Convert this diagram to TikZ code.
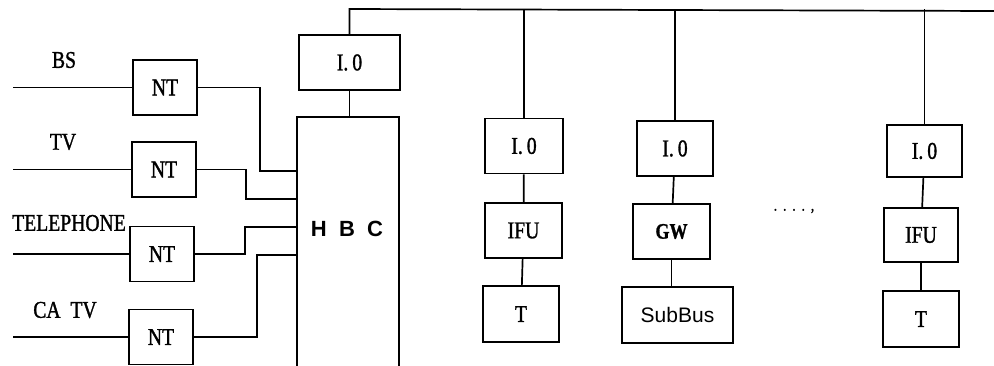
\documentclass[tikz,border=0pt]{standalone}
\usepackage{fontspec}
\setmainfont[FakeStretch=0.82,FakeBold=1.2]{Liberation Serif}
\newfontfamily\sansf{Liberation Sans}
\begin{document}
\begin{tikzpicture}[x=1pt,y=-1pt,
  wire/.style={line width=1.7pt},
  blk/.style={draw, line width=1.7pt, inner sep=0pt, minimum height=55pt,
    font=\fontsize{24}{24}\selectfont},
  lbl/.style={inner sep=0pt, font=\fontsize{24}{24}\selectfont}]
\useasboundingbox (0,0) rectangle (994,365);

% input labels
\node[lbl] (lbs) at (64,60) {BS};
\node[lbl] (ltv) at (63,142) {TV};
\node[lbl] (ltel) at (69,223) {TELEPHONE};
\node[lbl] (lcatv) at (65,310) {CA\ \ TV};

% NT boxes
\node[blk, minimum width=64pt] (nt1) at (165,87.5) {NT};
\node[blk, minimum width=64pt] (nt2) at (164,169.5) {NT};
\node[blk, minimum width=64pt] (nt3) at (162,254) {NT};
\node[blk, minimum width=64pt] (nt4) at (161,337) {NT};

\coordinate (s1) at (13,87.5);
\coordinate (s2) at (13,169.5);
\coordinate (s3) at (13,254);
\coordinate (s4) at (13,337);
\draw[wire] (s1) -- (nt1.west);
\draw[wire] (s2) -- (nt2.west);
\draw[wire] (s3) -- (nt3.west);
\draw[wire] (s4) -- (nt4.west);

% HBC and its I.0
\node[blk, minimum width=101pt] (io1) at (349.5,62.5) {I.\,0};
\node[inner sep=0pt, minimum width=102pt, minimum height=249pt] (hbc) at (348,241.5) {};
\draw[line width=1.7pt] (hbc.south west) -- (hbc.north west) -- (hbc.north east) -- (hbc.south east);
\node[inner sep=0pt, font=\sansf\bfseries\fontsize{22}{22}\selectfont] (hbclbl) at (347,229) {H\ \ B\ \ C};
\draw[wire] (io1.south) -- (io1.south |- hbc.north);

% NT to HBC wiring
\draw[wire] (nt1.east) -| (260,171) -- (hbc.west |- 0,171);
\draw[wire] (nt2.east) -| (246,199) -- (hbc.west |- 0,199);
\draw[wire] (nt3.east) -| (245,227) -- (hbc.west |- 0,227);
\draw[wire] (nt4.east) -| (257,255) -- (hbc.west |- 0,255);

% bus
\coordinate (busL) at (350,9);
\coordinate (busR) at (994,11);
\draw[wire] (io1.north) -- (io1.north |- busL) -- (busR);

% column 2
\node[blk, minimum width=78pt] (io2) at (524,146) {I.\,0};
\node[blk, minimum width=77pt] (ifu2) at (523.5,230.5) {IFU};
\node[blk, minimum width=76pt, minimum height=56pt] (t2) at (521,314) {T};
\draw[wire] (io2.north) -- (io2.north |- busL);
\draw[wire] (io2) -- (ifu2);
\draw[wire] (ifu2) -- (t2);

% column 3
\node[blk, minimum width=76pt] (io3) at (675,148.5) {I.\,0};
\node[blk, minimum width=77pt, font=\bfseries\fontsize{22}{22}\selectfont] (gw) at (671.5,231.5) {GW};
\node[blk, minimum width=111pt, minimum height=56pt, font=\sansf\fontsize{21}{21}\selectfont] (sub) at (677.5,315) {SubBus};
\draw[wire] (io3.north) -- (io3.north |- busL);
\draw[wire] (io3) -- (gw);
\draw[wire] (gw) -- (sub.north -| gw.south);

% dots
\node[inner sep=0pt, font=\fontsize{16}{16}\selectfont] (dots) at (794,211) {.\hspace{6pt}.\hspace{6pt}.\hspace{6pt}.\hspace{6pt},};

% column 4
\node[blk, minimum width=75pt, minimum height=52pt] (io4) at (924.5,151) {I.\,0};
\node[blk, minimum width=74pt, minimum height=54pt] (ifu4) at (921,235) {IFU};
\node[blk, minimum width=76pt, minimum height=56pt] (t4) at (921,319) {T};
\draw[wire] (io4.north) -- (io4.north |- busL);
\draw[wire] (io4) -- (ifu4);
\draw[wire] (ifu4) -- (t4);
\end{tikzpicture}
\end{document}
